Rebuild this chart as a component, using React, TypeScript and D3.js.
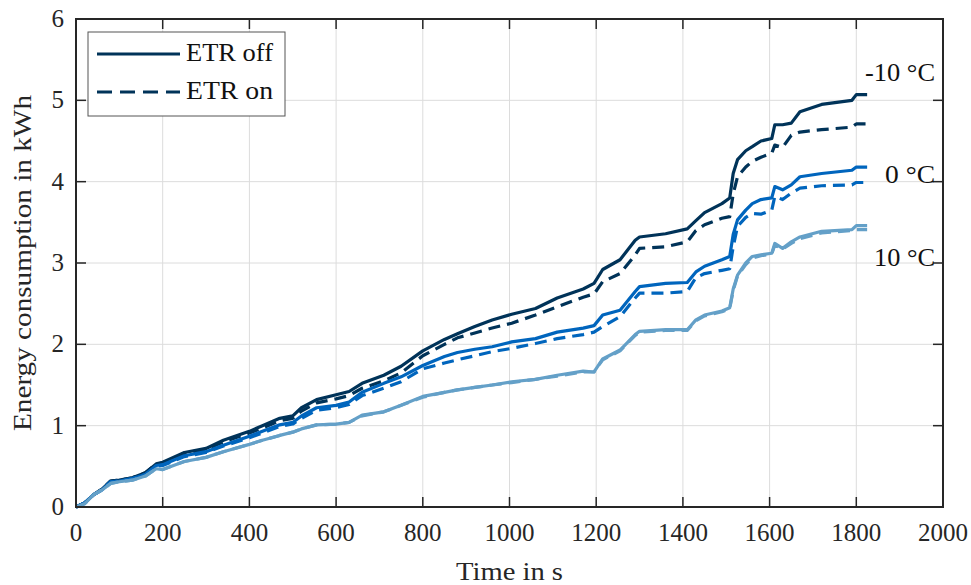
import React from "react";
import * as d3 from "d3";

const times = [0, 20, 40, 60, 80, 100, 130, 160, 185, 200, 250, 300, 340, 400, 430, 470, 500, 520, 555, 600, 630, 660, 710, 750, 800, 850, 880, 920, 960, 1005, 1060, 1110, 1170, 1195, 1215, 1255, 1290, 1300, 1360, 1410, 1430, 1450, 1490, 1508, 1516, 1526, 1545, 1560, 1580, 1605, 1612, 1630, 1650, 1670, 1720, 1790, 1800, 1825];

const minus10Off = [0, 0.05, 0.15, 0.22, 0.32, 0.33, 0.36, 0.42, 0.53, 0.55, 0.67, 0.72, 0.82, 0.93, 1.0, 1.09, 1.12, 1.22, 1.32, 1.38, 1.42, 1.52, 1.62, 1.73, 1.92, 2.06, 2.13, 2.22, 2.3, 2.37, 2.44, 2.57, 2.68, 2.75, 2.92, 3.04, 3.28, 3.32, 3.36, 3.42, 3.52, 3.62, 3.73, 3.8, 4.1, 4.27, 4.38, 4.43, 4.5, 4.53, 4.7, 4.7, 4.72, 4.86, 4.95, 5.0, 5.07, 5.07];
const minus10On = [0, 0.05, 0.15, 0.22, 0.32, 0.33, 0.36, 0.42, 0.53, 0.54, 0.66, 0.71, 0.8, 0.91, 0.97, 1.06, 1.09, 1.18, 1.28, 1.33, 1.37, 1.46, 1.55, 1.65, 1.86, 2.0, 2.08, 2.14, 2.2, 2.26, 2.36, 2.46, 2.58, 2.62, 2.77, 2.87, 3.1, 3.18, 3.2, 3.26, 3.4, 3.47, 3.55, 3.57, 3.85, 4.06, 4.18, 4.25, 4.3, 4.35, 4.45, 4.42, 4.57, 4.61, 4.64, 4.67, 4.71, 4.71];
const zeroOff = [0, 0.05, 0.15, 0.21, 0.31, 0.32, 0.35, 0.4, 0.51, 0.52, 0.63, 0.68, 0.76, 0.87, 0.93, 1.01, 1.04, 1.12, 1.22, 1.25, 1.29, 1.41, 1.52, 1.6, 1.74, 1.85, 1.9, 1.94, 1.97, 2.03, 2.07, 2.15, 2.2, 2.23, 2.36, 2.42, 2.65, 2.71, 2.75, 2.76, 2.89, 2.96, 3.04, 3.08, 3.35, 3.53, 3.65, 3.73, 3.78, 3.8, 3.94, 3.9, 3.96, 4.06, 4.1, 4.14, 4.18, 4.18];
const zeroOn = [0, 0.05, 0.15, 0.21, 0.31, 0.32, 0.35, 0.4, 0.5, 0.51, 0.62, 0.67, 0.75, 0.85, 0.91, 0.99, 1.02, 1.09, 1.19, 1.22, 1.26, 1.37, 1.46, 1.54, 1.7, 1.77, 1.81, 1.86, 1.91, 1.95, 2.01, 2.07, 2.12, 2.15, 2.22, 2.34, 2.57, 2.63, 2.63, 2.65, 2.82, 2.87, 2.91, 2.93, 3.2, 3.45, 3.56, 3.61, 3.6, 3.65, 3.82, 3.78, 3.86, 3.92, 3.95, 3.96, 3.99, 3.99];
const tenOff = [0, 0.04, 0.15, 0.21, 0.29, 0.31, 0.33, 0.38, 0.47, 0.46, 0.56, 0.61, 0.68, 0.77, 0.82, 0.88, 0.92, 0.96, 1.01, 1.02, 1.04, 1.13, 1.17, 1.25, 1.36, 1.41, 1.44, 1.47, 1.5, 1.54, 1.57, 1.62, 1.67, 1.66, 1.82, 1.93, 2.12, 2.16, 2.18, 2.18, 2.3, 2.36, 2.41, 2.45, 2.68, 2.85, 3.0, 3.08, 3.1, 3.12, 3.24, 3.18, 3.26, 3.32, 3.39, 3.41, 3.46, 3.46];
const tenOn = [0, 0.04, 0.15, 0.21, 0.29, 0.31, 0.33, 0.38, 0.47, 0.46, 0.56, 0.61, 0.68, 0.77, 0.82, 0.88, 0.92, 0.96, 1.01, 1.02, 1.04, 1.12, 1.17, 1.25, 1.35, 1.41, 1.44, 1.47, 1.5, 1.53, 1.57, 1.61, 1.66, 1.66, 1.81, 1.92, 2.11, 2.15, 2.17, 2.17, 2.29, 2.35, 2.4, 2.44, 2.66, 2.84, 2.98, 3.06, 3.09, 3.11, 3.22, 3.17, 3.24, 3.3, 3.37, 3.4, 3.41, 3.41];

const xTicks = [0, 200, 400, 600, 800, 1000, 1200, 1400, 1600, 1800, 2000];
const yTicks = [0, 1, 2, 3, 4, 5, 6];

const series = [
  { values: minus10Off, color: "#003359", dashed: false },
  { values: minus10On, color: "#003359", dashed: true },
  { values: zeroOff, color: "#0065BD", dashed: false },
  { values: zeroOn, color: "#0065BD", dashed: true },
  { values: tenOff, color: "#64A0C8", dashed: false },
  { values: tenOn, color: "#64A0C8", dashed: true },
];

const tempLabels = [
  { text: "-10 °C", y: 5.33, len: 70 },
  { text: "0 °C", y: 4.08, len: 50 },
  { text: "10 °C", y: 3.06, len: 61 },
];

const W = 971, H = 585;
const M = { left: 76, right: 28, top: 19, bottom: 78 };
const FONT = "'Liberation Serif', 'Times New Roman', serif";

export default function App() {
  const x = d3.scaleLinear().domain([0, 2000]).range([M.left, W - M.right]);
  const y = d3.scaleLinear().domain([0, 6]).range([H - M.bottom, M.top]);
  const line = d3.line<number>().x((_, i) => x(times[i])).y((d) => y(d));
  const axisColor = "#262626";
  const fs = 25;
  return (
    <svg width={W} height={H} style={{ position: "absolute", left: 0, top: 0, background: "#fff" }} fontFamily={FONT}>
      {xTicks.slice(1, -1).map((t) => (
        <line key={"gx" + t} x1={x(t)} x2={x(t)} y1={y(0)} y2={y(6)} stroke="#dcdcdc" strokeWidth={1} />
      ))}
      {yTicks.slice(1, -1).map((t) => (
        <line key={"gy" + t} x1={x(0)} x2={x(2000)} y1={y(t)} y2={y(t)} stroke="#dcdcdc" strokeWidth={1} />
      ))}
      {series.map((s, i) => (
        <path key={i} d={line(s.values) || ""} fill="none" stroke={s.color} strokeWidth={3.2}
          strokeDasharray={s.dashed ? "12 7" : undefined} strokeLinejoin="round" />
      ))}
      {xTicks.map((t) => (
        <g key={"tx" + t}>
          <line x1={x(t)} x2={x(t)} y1={y(0)} y2={y(0) - 10} stroke={axisColor} strokeWidth={1.5} />
          <line x1={x(t)} x2={x(t)} y1={y(6)} y2={y(6) + 10} stroke={axisColor} strokeWidth={1.5} />
          <text x={x(t)} y={y(0) + 34} textAnchor="middle" fontSize={fs} fill={axisColor}>{t}</text>
        </g>
      ))}
      {yTicks.map((t) => (
        <g key={"ty" + t}>
          <line x1={x(0)} x2={x(0) + 10} y1={y(t)} y2={y(t)} stroke={axisColor} strokeWidth={1.5} />
          <line x1={x(2000)} x2={x(2000) - 10} y1={y(t)} y2={y(t)} stroke={axisColor} strokeWidth={1.5} />
          <text x={x(0) - 12} y={y(t) + 8} textAnchor="end" fontSize={fs} fill={axisColor}>{t}</text>
        </g>
      ))}
      <rect x={x(0)} y={y(6)} width={x(2000) - x(0)} height={y(0) - y(6)} fill="none" stroke={axisColor} strokeWidth={2} />
      <text x={(x(0) + x(2000)) / 2} y={H - 5} textAnchor="middle" fontSize={fs} fill={axisColor}
        textLength={107} lengthAdjust="spacingAndGlyphs">Time in s</text>
      <text transform={`translate(31, ${(y(0) + y(6)) / 2}) rotate(-90)`} textAnchor="middle" fontSize={fs} fill={axisColor}
        textLength={336} lengthAdjust="spacingAndGlyphs">Energy consumption in kWh</text>
      {tempLabels.map((l) => (
        <text key={l.text} x={935} y={y(l.y) + 8} textAnchor="end" fontSize={fs} fill="#111"
          textLength={l.len} lengthAdjust="spacingAndGlyphs">{l.text}</text>
      ))}
      <rect x={88} y={32} width={197} height={84} fill="#fff" stroke="#555" strokeWidth={1} />
      <line x1={97} x2={180} y1={54} y2={54} stroke="#003359" strokeWidth={3} />
      <line x1={97} x2={180} y1={92} y2={92} stroke="#003359" strokeWidth={3} strokeDasharray="15 8" />
      <text x={186} y={61} fontSize={fs} fill="#111" textLength={87} lengthAdjust="spacingAndGlyphs">ETR off</text>
      <text x={186} y={99} fontSize={fs} fill="#111" textLength={87} lengthAdjust="spacingAndGlyphs">ETR on</text>
    </svg>
  );
}
